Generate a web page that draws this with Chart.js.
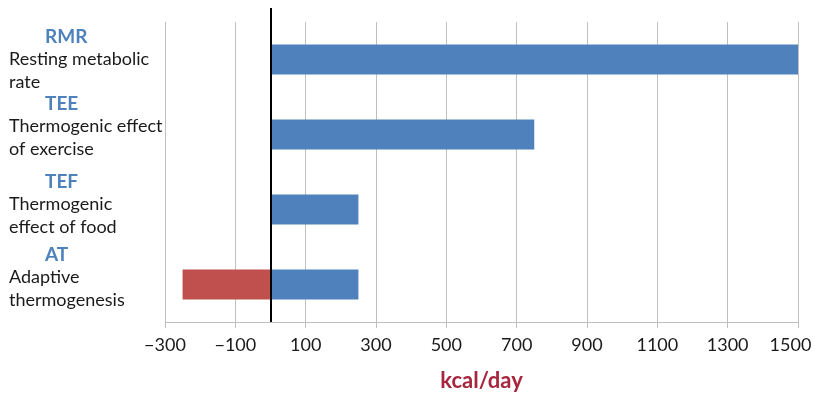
<!DOCTYPE html>
<html>
<head>
<meta charset="utf-8">
<script src="https://cdn.jsdelivr.net/npm/chart.js@4/dist/chart.umd.min.js"></script>
<style>
  html, body { margin: 0; padding: 0; background: #fff; }
  #wrap { width: 815px; height: 396px; position: relative; }
</style>
</head>
<body>
<div id="wrap"><canvas id="c"></canvas></div>
<script>
// Energy expenditure components (kcal/day)
const categories = ['RMR', 'TEE', 'TEF', 'AT'];
const descriptions = [
  ['Resting metabolic', 'rate'],
  ['Thermogenic effect', 'of exercise'],
  ['Thermogenic', 'effect of food'],
  ['Adaptive', 'thermogenesis']
];
const increaseValues = [1500, 750, 250, 250];
const decreaseValues = [null, null, null, -250];
const xTicks = [-300, -100, 100, 300, 500, 700, 900, 1100, 1300, 1500];
const axisTitle = 'kcal/day';

const FONT = 'Lato, "Open Sans", sans-serif';

// Category labels drawn to the left of the plot: bold abbreviation + two-line description
const categoryLabels = {
  id: 'categoryLabels',
  afterDraw(chart, args, opts) {
    const ctx = chart.ctx;
    const y = chart.scales.y;
    ctx.save();
    ctx.textBaseline = 'middle';
    ctx.textAlign = 'left';
    categories.forEach((cat, i) => {
      const c = y.getPixelForValue(i) + (opts.shift[i] || 0);
      ctx.font = 'bold 19px ' + FONT;
      ctx.fillStyle = '#4f81bd';
      ctx.fillText(cat, 45, c - 23);
      ctx.font = '18px ' + FONT;
      ctx.fillStyle = '#1a1a1a';
      ctx.fillText(descriptions[i][0], 9, c);
      ctx.fillText(descriptions[i][1], 9, c + 23);
    });
    ctx.restore();
  }
};

// Heavy baseline at zero
const zeroLine = {
  id: 'zeroLine',
  afterDatasetsDraw(chart) {
    const ctx = chart.ctx;
    const x = Math.round(chart.scales.x.getPixelForValue(0));
    ctx.save();
    ctx.strokeStyle = '#000';
    ctx.lineWidth = 2;
    ctx.beginPath();
    ctx.moveTo(x, 8);
    ctx.lineTo(x, chart.chartArea.bottom);
    ctx.stroke();
    ctx.restore();
  }
};

const lastTick = xTicks[xTicks.length - 1];

new Chart(document.getElementById('c'), {
  type: 'bar',
  data: {
    labels: categories,
    datasets: [
      { data: increaseValues, backgroundColor: '#4f81bd', borderWidth: 0 },
      { data: decreaseValues, backgroundColor: '#c0504d', borderWidth: 0 }
    ]
  },
  options: {
    indexAxis: 'y',
    responsive: true,
    maintainAspectRatio: false,
    animation: false,
    layout: { padding: { left: 165, right: 0, top: 22, bottom: 2 } },
    categoryPercentage: 0.4,
    barPercentage: 1,
    scales: {
      x: {
        stacked: true,
        min: -300,
        max: 1500,
        afterBuildTicks(scale) {
          scale.ticks = xTicks.map(v => ({ value: v }));
        },
        afterFit(scale) {
          scale.paddingRight = 17;
        },
        ticks: {
          color: '#1a1a1a',
          font: { family: FONT, size: 18 },
          padding: 6,
          maxRotation: 0,
          // keep the right-most label inside the canvas
          callback: v => {
            const s = v < 0 ? '\u2212' + Math.abs(v) : String(v);
            return v === lastTick ? s + '\u2007 ' : s;
          }
        },
        grid: { color: '#bfbfbf', lineWidth: 1, tickLength: 6 },
        border: { color: '#bfbfbf', width: 1 },
        title: {
          display: true,
          text: axisTitle,
          color: '#a6263e',
          font: { family: FONT, size: 22, weight: 'bold' },
          padding: { top: 6, bottom: 0 }
        }
      },
      y: {
        stacked: true,
        display: false
      }
    },
    plugins: {
      legend: { display: false },
      tooltip: { enabled: false },
      categoryLabels: { shift: [0, -8, -5, -7] }
    }
  },
  plugins: [categoryLabels, zeroLine]
});
</script>
</body>
</html>
